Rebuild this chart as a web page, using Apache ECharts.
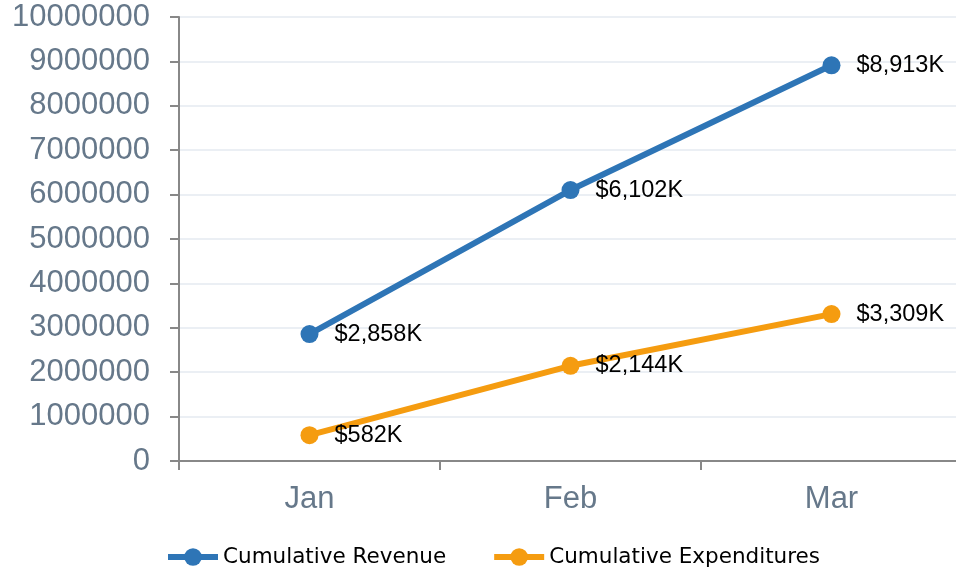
<!DOCTYPE html>
<html><head><meta charset="utf-8">
<script src="https://cdn.jsdelivr.net/npm/echarts@6/dist/echarts.min.js"></script>
<style>html,body{margin:0;padding:0;background:#fff;overflow:hidden}#c{width:962px;height:572px}</style>
</head><body><div id="c"></div>
<script>
const categories = ['Jan', 'Feb', 'Mar'];
const revenue = [2858000, 6102000, 8913000];
const expenditures = [582000, 2144000, 3309000];
const seriesNames = ['Cumulative Revenue', 'Cumulative Expenditures'];

function fmt(v) {
  return '$' + Math.round(v / 1000).toLocaleString('en-US') + 'K';
}
const chart = echarts.init(document.getElementById('c'));
function labelCfg() {
  return {
    show: true, position: 'right', distance: 16,
    formatter: p => fmt(p.value),
    color: '#000', fontSize: 23.5, fontFamily: 'Liberation Sans, Arial, sans-serif'
  };
}
chart.setOption({
  animation: false,
  grid: { left: 179, top: 17, width: 783, height: 444, containLabel: false },
  legend: {
    bottom: -1, left: 160,
    itemWidth: 50, itemHeight: 22, itemGap: 45,
    lineStyle: { width: 6 },
    textStyle: { color: '#000', fontSize: 21.5, fontFamily: 'DejaVu Sans, sans-serif' },
    data: seriesNames
  },
  xAxis: {
    type: 'category', data: categories, boundaryGap: true,
    axisLine: { lineStyle: { color: '#888', width: 2 } },
    axisTick: { show: true, length: 9, lineStyle: { color: '#888', width: 2 } },
    axisLabel: { color: '#66788a', fontSize: 31, margin: 23, fontFamily: 'Liberation Sans, Arial, sans-serif' }
  },
  yAxis: {
    type: 'value', min: 0, max: 10000000, interval: 1000000,
    axisLine: { show: true, lineStyle: { color: '#888', width: 2 } },
    axisTick: { show: true, length: 9, lineStyle: { color: '#888', width: 2 } },
    splitLine: { lineStyle: { color: '#e4eaf1', width: 1.5 } },
    axisLabel: {
      color: '#66788a', fontSize: 31, margin: 29, fontFamily: 'Liberation Sans, Arial, sans-serif',
      formatter: v => String(v)
    }
  },
  series: [
    {
      name: seriesNames[0], type: 'line', data: revenue,
      symbol: 'circle', symbolSize: 18,
      lineStyle: { color: '#2e75b6', width: 6 },
      itemStyle: { color: '#2e75b6' },
      label: labelCfg()
    },
    {
      name: seriesNames[1], type: 'line', data: expenditures,
      symbol: 'circle', symbolSize: 18,
      lineStyle: { color: '#f59c10', width: 6 },
      itemStyle: { color: '#f59c10' },
      label: labelCfg()
    }
  ]
});
</script></body></html>
